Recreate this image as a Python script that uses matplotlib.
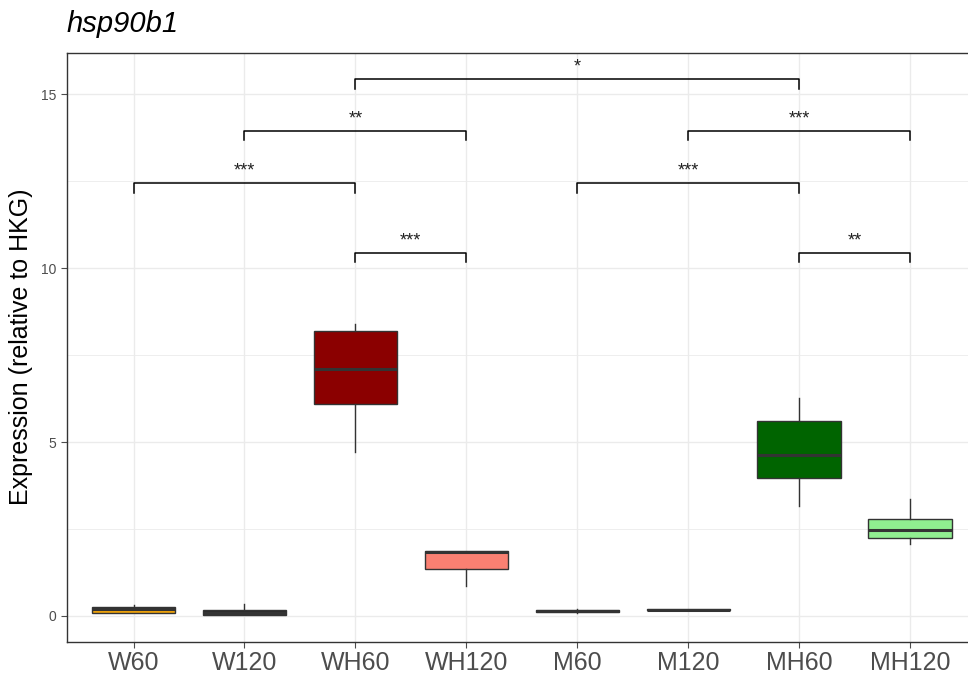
import matplotlib.pyplot as plt

# groups and box statistics
groups = ['W60', 'W120', 'WH60', 'WH120', 'M60', 'M120', 'MH60', 'MH120']
fills = ['#F0A30A', '#2B2B2B', '#8B0000', '#FA8072', '#2B2B2B', '#2B2B2B', '#006400', '#90EE90']
q1 = [0.08, 0.03, 6.09, 1.36, 0.11, 0.16, 3.98, 2.24]
med = [0.20, 0.10, 7.09, 1.85, 0.15, 0.18, 4.64, 2.47]
q3 = [0.27, 0.17, 8.20, 1.88, 0.18, 0.19, 5.61, 2.79]
whislo = [0.08, 0.03, 4.70, 0.87, 0.10, 0.16, 3.17, 2.06]
whishi = [0.32, 0.34, 8.38, 1.88, 0.19, 0.20, 6.27, 3.35]

# significance brackets: (from group, to group, height, label)
sig_from = ['WH60', 'W120', 'M120', 'W60', 'M60', 'WH60', 'MH60']
sig_to = ['MH60', 'WH120', 'MH120', 'WH60', 'MH60', 'WH120', 'MH120']
sig_y = [15.43, 13.94, 13.94, 12.44, 12.44, 10.43, 10.43]
sig_lab = ['*', '**', '***', '***', '***', '***', '**']

plt.rcParams['font.family'] = ['Liberation Sans', 'DejaVu Sans']

fig = plt.figure(figsize=(9.68, 6.77), dpi=100)
ax = fig.add_axes([0.0692, 0.0521, 0.9396, 0.8701])

stats = []
for i in range(len(groups)):
    stats.append({'med': med[i], 'q1': q1[i], 'q3': q3[i],
                  'whislo': whislo[i], 'whishi': whishi[i], 'fliers': []})

pos = list(range(1, len(groups) + 1))
bp = ax.bxp(stats, positions=pos, widths=0.75, patch_artist=True, showcaps=False,
            boxprops=dict(edgecolor='#333333', linewidth=1.0),
            medianprops=dict(color='#333333', linewidth=2.2),
            whiskerprops=dict(color='#333333', linewidth=1.0), zorder=3)
for patch, c in zip(bp['boxes'], fills):
    patch.set_facecolor(c)

# brackets
tip = 0.27
for a, b, y, lab in zip(sig_from, sig_to, sig_y, sig_lab):
    x1 = groups.index(a) + 1
    x2 = groups.index(b) + 1
    ax.plot([x1, x1, x2, x2], [y - tip, y, y, y - tip], color='black', linewidth=1.1, zorder=4)
    ax.text((x1 + x2) / 2, y + 0.1, lab, ha='center', va='bottom', fontsize=13, color='#222222')

ax.set_xlim(0.4, 8.6)
ax.set_ylim(-0.74, 16.19)
ax.set_xticks(pos)
ax.set_xticklabels(groups, fontsize=18, color='#4D4D4D')
ax.set_yticks([0, 5, 10, 15])
ax.set_yticks([2.5, 7.5, 12.5], minor=True)
ax.tick_params(axis='y', labelsize=10, colors='#4D4D4D', length=4, width=0.8)
ax.tick_params(axis='y', which='minor', length=0)
ax.tick_params(axis='x', length=4, width=0.8, colors='#4D4D4D', pad=3)
ax.grid(True, which='major', color='#EBEBEB', linewidth=1.0, zorder=0)
ax.grid(True, which='minor', axis='y', color='#EBEBEB', linewidth=0.6, zorder=0)
ax.set_axisbelow(True)
for s in ax.spines.values():
    s.set_color('#333333')
    s.set_linewidth(1.0)

ax.set_ylabel('Expression (relative to HKG)', fontsize=18, labelpad=6)
fig.text(0.0692, 0.953, 'hsp90b1', fontsize=21, style='italic', ha='left', va='baseline')

fig.savefig('out.png', dpi=100)
